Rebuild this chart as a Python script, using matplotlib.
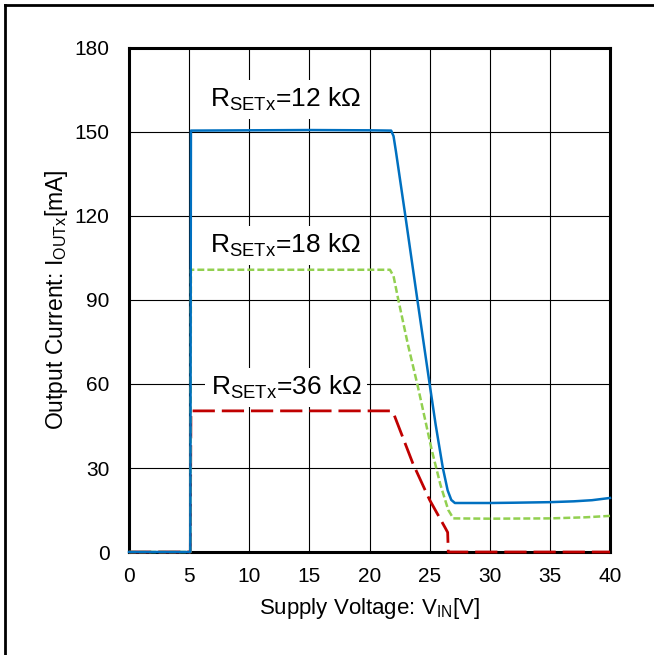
import matplotlib
matplotlib.use("Agg")
import matplotlib.pyplot as plt
from matplotlib.lines import Line2D

plt.rcParams['font.family'] = ['Liberation Sans', 'DejaVu Sans']
plt.rcParams['mathtext.fontset'] = 'custom'
plt.rcParams['mathtext.rm'] = 'Liberation Sans'
plt.rcParams['lines.scale_dashes'] = False

# ---- data ----
x_12k = [0, 5.1, 5.15, 10, 15, 20, 21.8, 22.0, 22.2, 23.0, 24.0, 25.0, 25.5, 26.1, 26.5, 26.8, 27.1, 28, 30, 32, 35, 37, 38.5, 40]
y_12k = [0, 0, 150.5, 150.6, 150.7, 150.6, 150.5, 148.5, 143, 119.5, 89.5, 60, 45.5, 30, 22, 18.6, 17.5, 17.5, 17.5, 17.6, 17.8, 18.1, 18.5, 19.3]

x_18k = [0, 5.1, 5.15, 10, 15, 20, 21.7, 22.0, 22.4, 23.2, 24.0, 25.2, 25.9, 26.55, 26.97, 30, 35, 38, 40]
y_18k = [0, 0, 100.8, 100.8, 100.8, 100.8, 100.8, 98.5, 90, 74, 59.5, 36, 24, 15, 12.0, 11.9, 12.0, 12.4, 12.9]

x_36k = [0, 5.1, 5.15, 10, 15, 20, 21.7, 22.0, 23.6, 25.0, 26.3, 26.5, 26.55, 30, 35, 40]
y_36k = [0, 0, 50.4, 50.4, 50.4, 50.4, 50.4, 49.5, 31.7, 18.6, 8.6, 7.0, 0, 0, 0, 0]

x_ticks = [0, 5, 10, 15, 20, 25, 30, 35, 40]
y_ticks = [0, 30, 60, 90, 120, 150, 180]

labels = [r'R$_\mathregular{SETx}$=12 kΩ', r'R$_\mathregular{SETx}$=18 kΩ', r'R$_\mathregular{SETx}$=36 kΩ']
label_pos = [(6.75, 159.0), (6.75, 106.8), (6.8, 56.1)]

# ---- figure ----
fig = plt.figure(figsize=(6.54, 6.55), dpi=100)
ax = fig.add_axes([129/654, 1-552/655, 481/654, 504/655])

ax.set_xlim(0, 40)
ax.set_ylim(0, 180)
ax.set_xticks(x_ticks)
ax.set_yticks(y_ticks)
ax.grid(True, which='major', color='black', linewidth=0.8, zorder=0)
ax.set_axisbelow(True)
ax.tick_params(which='both', length=0, labelsize=15)
ax.tick_params(axis='y', pad=14)
ax.tick_params(axis='x', pad=11)
for s in ax.spines.values():
    s.set_linewidth(2.2)
    s.set_color('black')
    s.set_zorder(3)

ax.plot(x_36k, y_36k, color='#C00000', lw=2.0, dashes=(16, 5), zorder=4, clip_on=False)
ax.plot(x_18k, y_18k, color='#92D050', lw=1.8, dashes=(5, 2.2), zorder=5, clip_on=False)
ax.plot(x_12k, y_12k, color='#0070C0', lw=1.8, zorder=6, clip_on=False)

for t, (lx, ly) in zip(labels, label_pos):
    ax.text(lx, ly, t, fontsize=19, ha='left', va='baseline', zorder=7,
            bbox=dict(facecolor='white', edgecolor='none', pad=4))

ax.set_xlabel(r'Supply Voltage: V$_\mathregular{IN}$[V]', fontsize=16, labelpad=7)
ax.set_ylabel(r'Output Current: I$_\mathregular{OUTx}$[mA]', fontsize=16.5, labelpad=3)

# outer frame (left and top edges)
fig.add_artist(Line2D([5/654, 5/654], [0, 1-5/655], transform=fig.transFigure, color='black', lw=2))
fig.add_artist(Line2D([5/654, 1], [1-5/655, 1-5/655], transform=fig.transFigure, color='black', lw=2))

fig.savefig('out.png', dpi=100)
